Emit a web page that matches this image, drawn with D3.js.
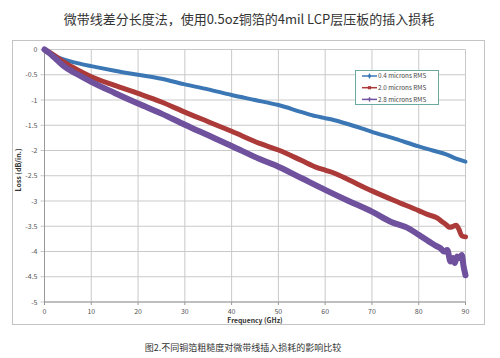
<!DOCTYPE html>
<html>
<head>
<meta charset="utf-8">
<script src="https://cdn.jsdelivr.net/npm/d3@7"></script>
<style>
  body { margin: 0; background: #fff; }
  svg { display: block; }
</style>
</head>
<body>
<svg id="chart" width="500" height="358"></svg>
<script>
// 讀圖估計的資料 (GHz, dB/in.)
const xTicks = [0, 10, 20, 30, 40, 50, 60, 70, 80, 90];
const yTicks = [0, -0.5, -1, -1.5, -2, -2.5, -3, -3.5, -4, -4.5, -5];
const seriesNames = ['0.4 microns RMS', '2.0 microns RMS', '2.8 microns RMS'];

const freq04 = [0, 1, 2, 3, 5, 7.5, 10, 15, 20, 25, 30, 35, 40, 45, 50, 55, 58, 60, 62, 65, 70, 75, 80, 83, 86, 88, 90];
const loss04 = [0, -0.07, -0.12, -0.16, -0.22, -0.28, -0.33, -0.42, -0.50, -0.58, -0.69, -0.79, -0.90, -1.00, -1.10, -1.24, -1.32, -1.36, -1.40, -1.48, -1.63, -1.77, -1.92, -2.00, -2.08, -2.16, -2.22];

const freq20 = [0, 1, 2, 4, 7, 10, 15, 20, 25, 30, 35, 40, 46, 50, 55, 58, 60, 62, 65, 70, 75, 80, 82, 84, 85, 86, 86.5, 87.2, 88, 88.6, 89.2, 90];
const loss20 = [0, -0.05, -0.11, -0.24, -0.40, -0.54, -0.71, -0.87, -1.04, -1.24, -1.43, -1.62, -1.86, -1.99, -2.20, -2.33, -2.39, -2.45, -2.58, -2.80, -3.00, -3.19, -3.27, -3.34, -3.41, -3.48, -3.52, -3.51, -3.48, -3.56, -3.69, -3.71];

const freq28 = [0, 1, 2, 4, 7, 10, 15, 20, 25, 30, 35, 40, 46, 50, 55, 60, 65, 70, 74, 78, 80, 82.3, 83.7, 84.7, 85.4, 86.1, 86.8, 87.3, 87.7, 88.2, 88.7, 89.2, 89.6, 90];
const loss28 = [0, -0.07, -0.15, -0.32, -0.49, -0.64, -0.86, -1.07, -1.27, -1.49, -1.70, -1.91, -2.17, -2.32, -2.55, -2.78, -3.00, -3.21, -3.41, -3.55, -3.67, -3.81, -3.89, -3.94, -4.00, -3.97, -4.20, -4.13, -4.23, -4.10, -4.13, -4.07, -4.30, -4.47];

const colors = ['#3b77b4', '#ab3a39', '#6f519d'];
const widths = [4, 5, 6];

const series = [
    { name: seriesNames[0], pts: freq04.map((f, i) => [f, loss04[i]]) },
    { name: seriesNames[1], pts: freq20.map((f, i) => [f, loss20[i]]) },
    { name: seriesNames[2], pts: freq28.map((f, i) => [f, loss28[i]]) }
];

const svg = d3.select('#chart');
const font = '"Noto Sans CJK SC", "Noto Sans", sans-serif';

// 標題
svg.append('text')
    .attr('x', 249).attr('y', 24)
    .attr('text-anchor', 'middle')
    .attr('font-family', font)
    .attr('font-size', 13)
    .attr('fill', '#333')
    .text('微带线差分长度法，使用0.5oz铜箔的4mil LCP层压板的插入损耗');

// 外框
svg.append('rect')
    .attr('x', 12.5).attr('y', 40.5)
    .attr('width', 472).attr('height', 284)
    .attr('fill', 'none')
    .attr('stroke', '#c4c4c4');

const x = d3.scaleLinear().domain([0, 90]).range([44.5, 465.5]);
const y = d3.scaleLinear().domain([0, -5]).range([49.5, 302]);

// 格線
svg.append('g').selectAll('line.v')
    .data(xTicks).enter().append('line')
    .attr('x1', d => x(d)).attr('x2', d => x(d))
    .attr('y1', y(0)).attr('y2', y(-5))
    .attr('stroke', '#c9c9c9').attr('stroke-width', 1);
svg.append('g').selectAll('line.h')
    .data(yTicks).enter().append('line')
    .attr('x1', x(0) - 4).attr('x2', x(90))
    .attr('y1', d => y(d)).attr('y2', d => y(d))
    .attr('stroke', '#c9c9c9').attr('stroke-width', 1);
// x 刻度
svg.append('g').selectAll('line')
    .data(xTicks).enter().append('line')
    .attr('x1', d => x(d)).attr('x2', d => x(d))
    .attr('y1', y(-5)).attr('y2', y(-5) + 3)
    .attr('stroke', '#999');
svg.append('line')
    .attr('x1', x(0)).attr('x2', x(0))
    .attr('y1', y(0)).attr('y2', y(-5))
    .attr('stroke', '#999');
svg.append('line')
    .attr('x1', x(0)).attr('x2', x(90))
    .attr('y1', y(-5)).attr('y2', y(-5))
    .attr('stroke', '#999');

// 刻度文字
svg.append('g').selectAll('text')
    .data(yTicks).enter().append('text')
    .attr('x', 37.5).attr('y', d => y(d) + 2.5)
    .attr('text-anchor', 'end')
    .attr('font-family', font).attr('font-size', 7)
    .attr('fill', '#555')
    .text(d => d);
svg.append('g').selectAll('text')
    .data(xTicks).enter().append('text')
    .attr('x', d => x(d)).attr('y', 313.5)
    .attr('text-anchor', 'middle')
    .attr('font-family', font).attr('font-size', 7)
    .attr('fill', '#555')
    .text(d => d);

// 軸標題
svg.append('text')
    .attr('x', 255).attr('y', 322.5)
    .attr('text-anchor', 'middle')
    .attr('font-family', font).attr('font-size', 6.8).attr('font-weight', 'bold')
    .attr('fill', '#333')
    .text('Frequency (GHz)');
svg.append('text')
    .attr('transform', 'translate(21,170) rotate(-90)')
    .attr('text-anchor', 'middle')
    .attr('font-family', font).attr('font-size', 7).attr('font-weight', 'bold')
    .attr('fill', '#333')
    .text('Loss (dB/in.)');

// 曲線
const line = d3.line()
    .x(d => x(d[0]))
    .y(d => y(d[1]))
    .curve(d3.curveMonotoneX);

svg.append('g').selectAll('path')
    .data(series).enter().append('path')
    .attr('d', d => line(d.pts))
    .attr('fill', 'none')
    .attr('stroke', (d, i) => colors[i])
    .attr('stroke-width', (d, i) => widths[i])
    .attr('stroke-linejoin', 'round')
    .attr('stroke-linecap', 'round');

// 圖例
const lg = svg.append('g').attr('transform', 'translate(355,70.5)');
lg.append('rect')
    .attr('x', 0.5).attr('y', 0)
    .attr('width', 83).attr('height', 34)
    .attr('fill', '#fff')
    .attr('stroke', '#6aa9a0');
const item = lg.selectAll('g.item')
    .data(series).enter().append('g')
    .attr('transform', (d, i) => `translate(0,${5.5 + i * 11.7})`);
item.append('line')
    .attr('x1', 7).attr('x2', 22)
    .attr('stroke', (d, i) => colors[i])
    .attr('stroke-width', 1.5);
item.append('path')
    .attr('transform', 'translate(14.5,0)')
    .attr('d', (d, i) => d3.symbol()
        .type([d3.symbolDiamond, d3.symbolSquare, d3.symbolCross][i])
        .size(10)())
    .attr('fill', (d, i) => colors[i]);
item.append('text')
    .attr('x', 23).attr('y', 2.3)
    .attr('font-family', font).attr('font-size', 6.3)
    .attr('fill', '#444')
    .text(d => d.name);

// 圖說
svg.append('text')
    .attr('x', 243).attr('y', 351)
    .attr('text-anchor', 'middle')
    .attr('font-family', font).attr('font-size', 9)
    .attr('fill', '#333')
    .text('图2.不同铜箔粗糙度对微带线插入损耗的影响比较');
</script>
</body>
</html>
